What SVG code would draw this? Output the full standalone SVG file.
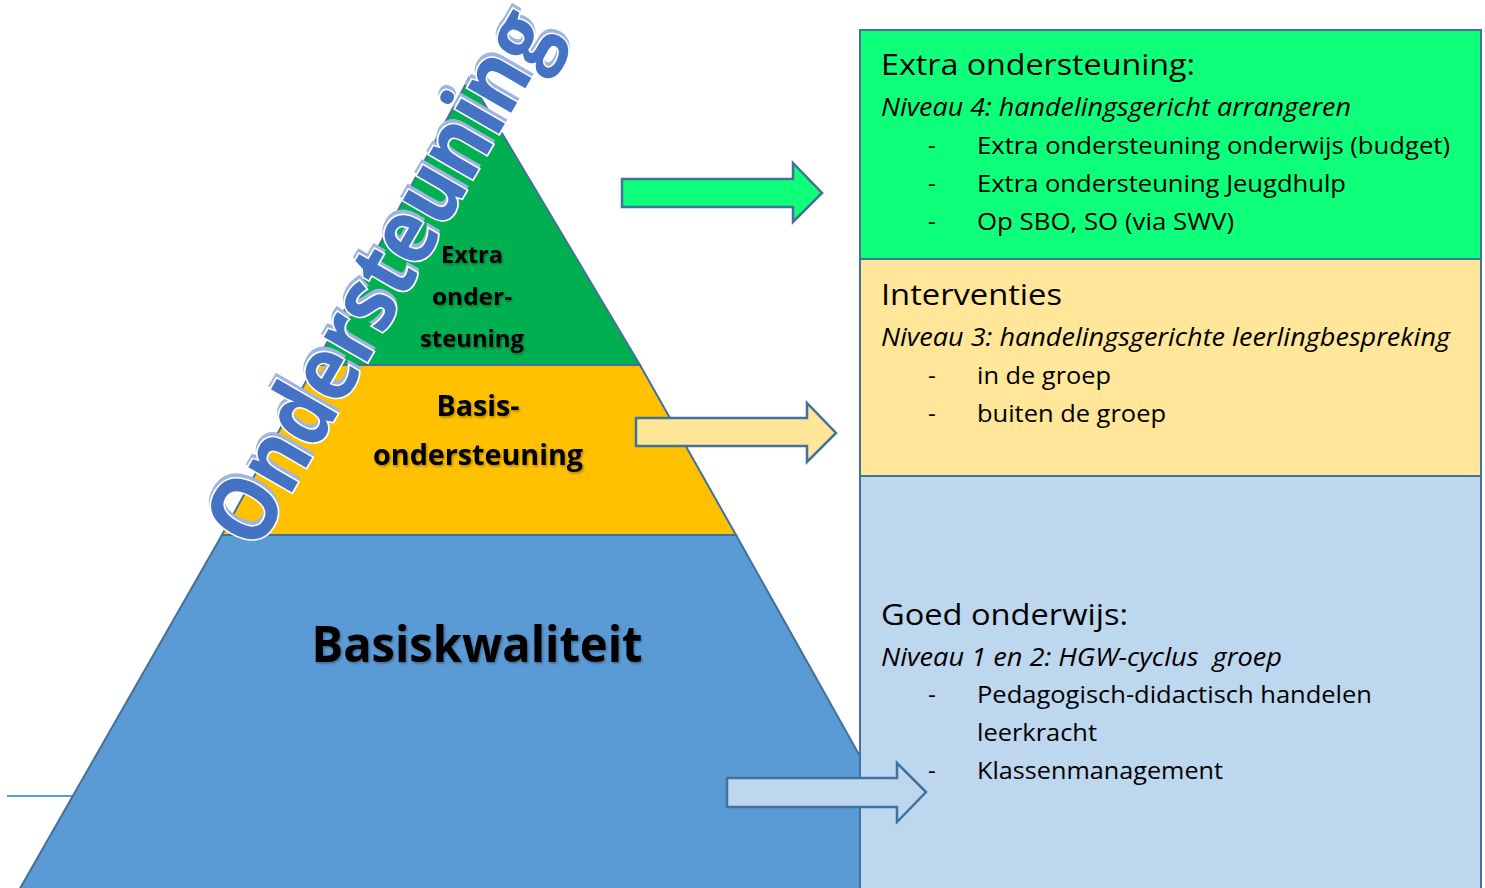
<svg xmlns="http://www.w3.org/2000/svg" width="1485" height="888" viewBox="0 0 1485 888">
<defs>
<style>
.edge{stroke:#41719C;stroke-width:2;stroke-linejoin:miter}
.lbl{font-family:"Open Sans","Liberation Sans",sans-serif;font-weight:bold;fill:#000;text-anchor:middle}
.bx{font-family:"Open Sans","Liberation Sans",sans-serif;fill:#000;white-space:pre}
.h{font-size:30px}
.it{font-size:25px;font-style:italic}
.b{font-size:24px}
.arr{stroke:#41719C;stroke-width:2.5;stroke-linejoin:miter}
.wa{font-family:"Open Sans","Liberation Sans",sans-serif;font-weight:bold;font-size:92px}
</style>
<filter id="ts" x="-10%" y="-10%" width="120%" height="130%">
<feDropShadow dx="1.2" dy="1.5" stdDeviation="0.8" flood-color="#000" flood-opacity="0.35"/>
</filter>
</defs>
<rect width="1485" height="888" fill="#fff"/>
<line x1="7" y1="796" x2="90" y2="796" stroke="#5B9BD5" stroke-width="2"/>
<g id="pyramid-blue">
<polygon class="edge" fill="#5B9BD5" points="222,535 736,535 936,892 18,892"/>
<text class="lbl" x="477" y="662" font-size="51" textLength="331" lengthAdjust="spacingAndGlyphs" filter="url(#ts)">Basiskwaliteit</text>
</g>
<g id="pyramid-yellow">
<polygon class="edge" fill="#FFC000" points="315,365 640,365 736,535 222,535"/>
<text class="lbl" x="478" y="416" font-size="28" textLength="83" lengthAdjust="spacingAndGlyphs" filter="url(#ts)">Basis-</text>
<text class="lbl" x="478" y="465" font-size="28" textLength="210" lengthAdjust="spacingAndGlyphs" filter="url(#ts)">ondersteuning</text>
</g>
<g id="pyramid-green">
<polygon class="edge" fill="#00B050" points="469,78 640,365 315,365"/>
<text class="lbl" x="472" y="263" font-size="23" textLength="62" lengthAdjust="spacingAndGlyphs" filter="url(#ts)">Extra</text>
<text class="lbl" x="472" y="305" font-size="23" textLength="80" lengthAdjust="spacingAndGlyphs" filter="url(#ts)">onder-</text>
<text class="lbl" x="472" y="347" font-size="23" textLength="104" lengthAdjust="spacingAndGlyphs" filter="url(#ts)">steuning</text>
</g>
<g id="wordart" transform="translate(257,553) rotate(-60)">
<text class="wa" x="3" y="-2" textLength="600" lengthAdjust="spacingAndGlyphs" fill="#9DB5E3" stroke="#9DB5E3" stroke-width="4">Ondersteuning</text>
<text class="wa" x="0" y="0" textLength="600" lengthAdjust="spacingAndGlyphs" fill="#4472C4" stroke="#fff" stroke-width="3.5" paint-order="stroke">Ondersteuning</text>
</g>
<g id="box-extra">
<rect class="edge" x="860" y="30" width="621" height="229" fill="#0EFF7A"/>
<text class="bx h" x="881" y="75" textLength="314" lengthAdjust="spacingAndGlyphs">Extra ondersteuning:</text>
<text class="bx it" x="881" y="116" textLength="470" lengthAdjust="spacingAndGlyphs">Niveau 4: handelingsgericht arrangeren</text>
<text class="bx b" x="928" y="154">-</text>
<text class="bx b" x="977" y="154" textLength="473" lengthAdjust="spacingAndGlyphs">Extra ondersteuning onderwijs (budget)</text>
<text class="bx b" x="928" y="192">-</text>
<text class="bx b" x="977" y="192" textLength="369" lengthAdjust="spacingAndGlyphs">Extra ondersteuning Jeugdhulp</text>
<text class="bx b" x="928" y="230">-</text>
<text class="bx b" x="977" y="230" textLength="257" lengthAdjust="spacingAndGlyphs">Op SBO, SO (via SWV)</text>
</g>
<g id="box-interventies">
<rect class="edge" x="860" y="259" width="621" height="217" fill="#FFE699"/>
<text class="bx h" x="881" y="305" textLength="181" lengthAdjust="spacingAndGlyphs">Interventies</text>
<text class="bx it" x="881" y="346" textLength="569" lengthAdjust="spacingAndGlyphs">Niveau 3: handelingsgerichte leerlingbespreking</text>
<text class="bx b" x="928" y="384">-</text>
<text class="bx b" x="977" y="384" textLength="134" lengthAdjust="spacingAndGlyphs">in de groep</text>
<text class="bx b" x="928" y="422">-</text>
<text class="bx b" x="977" y="422" textLength="189" lengthAdjust="spacingAndGlyphs">buiten de groep</text>
</g>
<g id="box-goed">
<rect class="edge" x="860" y="476" width="621" height="420" fill="#BDD7EE"/>
<text class="bx h" x="881" y="625" textLength="247" lengthAdjust="spacingAndGlyphs">Goed onderwijs:</text>
<text class="bx it" x="881" y="666" textLength="401" lengthAdjust="spacingAndGlyphs">Niveau 1 en 2: HGW-cyclus  groep</text>
<text class="bx b" x="928" y="703">-</text>
<text class="bx b" x="977" y="703" textLength="395" lengthAdjust="spacingAndGlyphs">Pedagogisch-didactisch handelen</text>
<text class="bx b" x="977" y="741" textLength="120" lengthAdjust="spacingAndGlyphs">leerkracht</text>
<text class="bx b" x="928" y="779">-</text>
<text class="bx b" x="977" y="779" textLength="246" lengthAdjust="spacingAndGlyphs">Klassenmanagement</text>
</g>
<g id="connectors">
<polygon class="arr" fill="#0EFF7A" points="622,179 793,179 793,163 822,193 793,222 793,207 622,207"/>
<polygon class="arr" fill="#FFE699" points="636,418 807,418 807,403 836,433 807,462 807,446 636,446"/>
<polygon class="arr" fill="#BDD7EE" points="727,778 897,778 897,763 926,792 897,822 897,807 727,807"/>
</g>
</svg>
